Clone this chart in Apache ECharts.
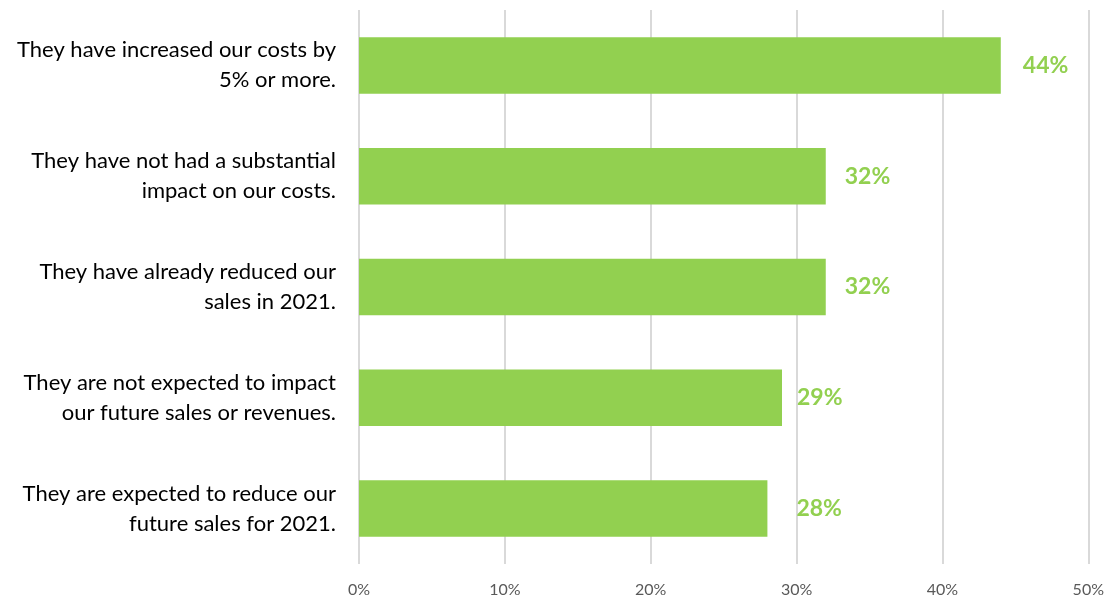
<!DOCTYPE html>
<html>
<head>
<meta charset="utf-8">
<script src="https://cdn.jsdelivr.net/npm/echarts@6/dist/echarts.min.js"></script>
<style>
  html, body { margin: 0; padding: 0; background: #ffffff; }
  #chart { width: 1107px; height: 599px; }
</style>
</head>
<body>
<div id="chart"></div>
<script>
// Survey answers, top to bottom
const categories = [
  'They have increased our costs by\n5% or more.',
  'They have not had a substantial\nimpact on our costs.',
  'They have already reduced our\nsales in 2021.',
  'They are not expected to impact\nour future sales or revenues.',
  'They are expected to reduce our\nfuture sales for 2021.'
];
// Share of respondents, percent
const shares = [44, 32, 32, 29, 28];
// Axis tick values, percent
const ticks = [0, 10, 20, 30, 40, 50];

// spacing between each bar end and its value label
const labelGap = [22, 19, 19, 15, 29];

const chart = echarts.init(document.getElementById('chart'), null, { renderer: 'canvas' });

// category axis runs top-to-bottom, so reverse for ECharts' bottom-up order
const catsDrawn = categories.slice().reverse();
const dataDrawn = shares.map((v, i) => ({
  value: v,
  label: { distance: labelGap[i] }
})).reverse();

chart.setOption({
  animation: false,
  grid: { left: 359, right: 18, top: 10, bottom: 35, containLabel: false },
  xAxis: {
    type: 'value',
    min: ticks[0],
    max: ticks[ticks.length - 1],
    interval: ticks[1] - ticks[0],
    axisLine: { show: false },
    axisTick: { show: false },
    splitLine: { show: true, lineStyle: { color: '#d9d9d9', width: 2 } },
    axisLabel: {
      formatter: v => v + '%',
      color: '#595959',
      fontFamily: 'Lato, "Open Sans", sans-serif',
      fontSize: 16,
      margin: 18
    }
  },
  yAxis: {
    type: 'category',
    data: catsDrawn,
    axisLine: { show: false },
    axisTick: { show: false },
    axisLabel: {
      color: '#000000',
      fontFamily: 'Lato, "Open Sans", sans-serif',
      fontSize: 22,
      lineHeight: 30,
      align: 'right',
      margin: 23,
      padding: [0, 0, 3, 0]
    }
  },
  series: [{
    type: 'bar',
    data: dataDrawn,
    barCategoryGap: '49%',
    itemStyle: { color: '#92d050' },
    label: {
      show: true,
      position: 'right',
      formatter: p => p.value + '%',
      color: '#92d050',
      fontFamily: 'Lato, "Open Sans", sans-serif',
      fontWeight: 'bold',
      fontSize: 23,
      padding: [4, 0, 0, 0]
    }
  }]
});
</script>
</body>
</html>
